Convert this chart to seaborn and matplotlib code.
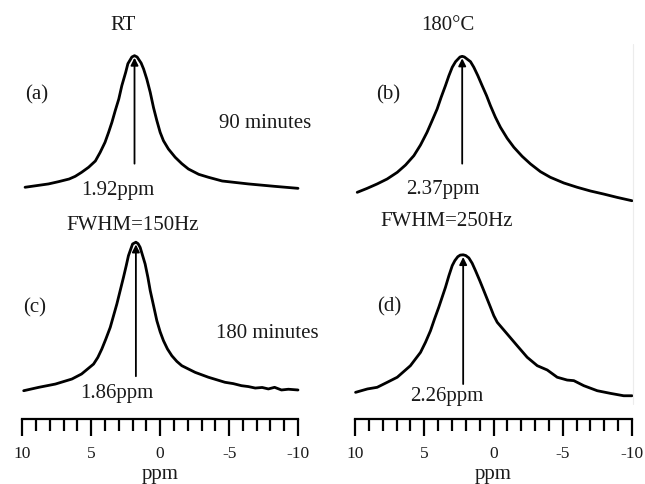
import numpy as np
import matplotlib
matplotlib.use("Agg")
import matplotlib.pyplot as plt
import seaborn as sns

# =========================
# Data (ppm, normalised intensity)
# =========================
ppm_a = [9.8, 8.1, 7.37, 6.6, 6.16, 5.7, 5.19, 4.7, 4.35, 4.0, 3.74, 3.5, 3.26, 3.0, 2.78,
         2.5, 2.34, 2.05, 1.86, 1.67, 1.38, 1.2, 0.97, 0.72, 0.48, 0.24, 0.0, -0.24, -0.6,
         -1.09, -1.57, -2.05, -2.8, -3.5, -4.5, -6.4, -8.3, -10.0]
int_a = [0.013, 0.038, 0.055, 0.075, 0.095, 0.125, 0.163, 0.21, 0.275, 0.35, 0.425, 0.50, 0.587, 0.675, 0.775,
         0.875, 0.94, 0.99, 1.0, 0.99, 0.945, 0.90, 0.825, 0.725, 0.61, 0.513, 0.425, 0.362, 0.30,
         0.238, 0.19, 0.15, 0.11, 0.088, 0.06, 0.038, 0.02, 0.005]

ppm_b = [9.84, 9.12, 8.4, 7.68, 6.95, 6.35, 5.75, 5.27, 4.8, 4.43, 4.07, 3.78, 3.47, 3.22, 2.98,
         2.74, 2.42, 2.26, 2.1, 1.66, 1.42, 1.13, 0.82, 0.5, 0.22, -0.14, -0.5, -0.99, -1.47,
         -2.07, -2.67, -3.39, -4.1, -5.08, -6.04, -7.0, -7.96, -8.93, -10.0]
int_b = [-0.025, 0.005, 0.038, 0.075, 0.125, 0.18, 0.25, 0.33, 0.425, 0.513, 0.60, 0.688, 0.775, 0.85, 0.913,
         0.955, 0.99, 0.995, 0.99, 0.955, 0.913, 0.85, 0.775, 0.70, 0.625, 0.538, 0.463, 0.38, 0.313,
         0.245, 0.188, 0.13, 0.088, 0.045, 0.013, -0.015, -0.038, -0.063, -0.088]

ppm_c = [9.9, 8.8, 7.6, 6.4, 5.7, 4.83, 4.52, 4.23, 3.94, 3.62, 3.38, 3.14, 2.9, 2.66, 2.46,
         2.3, 2.0, 1.76, 1.6, 1.45, 1.09, 0.89, 0.72, 0.48, 0.24, 0.0, -0.24, -0.53, -0.85,
         -1.21, -1.57, -2.54, -3.5, -4.7, -5.3, -5.9, -6.4, -6.9, -7.4, -7.85, -8.3, -8.8,
         -9.3, -10.0]
int_c = [0.002, 0.025, 0.047, 0.081, 0.115, 0.182, 0.227, 0.284, 0.351, 0.43, 0.509, 0.588, 0.678, 0.768, 0.847,
         0.914, 0.993, 1.005, 0.995, 0.97, 0.858, 0.768, 0.678, 0.577, 0.475, 0.40, 0.34, 0.284, 0.238,
         0.20, 0.171, 0.126, 0.093, 0.059, 0.05, 0.036, 0.03, 0.02, 0.024, 0.014, 0.025, 0.007,
         0.012, 0.007]

ppm_d = [9.96, 9.1, 8.4, 7.67, 6.95, 6.0, 5.27, 4.91, 4.55, 4.26, 3.95, 3.71, 3.47, 3.22, 2.98,
         2.79, 2.58, 2.4, 2.19, 2.0, 1.78, 1.54, 1.3, 0.99, 0.7, 0.46, 0.22, -0.02, -0.27,
         -0.99, -1.71, -2.43, -3.16, -3.88, -4.6, -5.32, -5.8, -6.52, -7.49, -8.45, -9.4, -10.0]
int_d = [-0.009, 0.014, 0.025, 0.059, 0.093, 0.171, 0.261, 0.329, 0.407, 0.486, 0.566, 0.633, 0.70, 0.779, 0.847,
         0.881, 0.907, 0.918, 0.92, 0.915, 0.899, 0.863, 0.813, 0.745, 0.678, 0.622, 0.566, 0.509, 0.464,
         0.385, 0.306, 0.228, 0.171, 0.142, 0.093, 0.074, 0.07, 0.036, 0.002, -0.016, -0.032, -0.032]

peak_labels = ["1.92ppm", "2.37ppm", "1.86ppm", "2.26ppm"]
panel_labels = ["(a)", "(b)", "(c)", "(d)"]
column_titles = ["RT", "180\u00b0C"]
fwhm_labels = ["FWHM=150Hz", "FWHM=250Hz"]
time_labels = ["90 minutes", "180 minutes"]
tick_values = [10, 5, 0, -5, -10]
tick_labels = ["10", "5", "0", "-5", "-10"]

# =========================
# Style
# =========================
sns.set_style("white")
plt.rcParams["font.family"] = ["Liberation Serif", "DejaVu Serif"]
plt.rcParams["axes.unicode_minus"] = False
TXT = "#1a1a1a"

W, H = 645, 485
fig = plt.figure(figsize=(W / 100, H / 100), dpi=100)


def fx(x):
    return x / W


def fy(y):
    return 1 - y / H


def make_ax(x0, x1, ytop, ybot):
    return fig.add_axes([fx(x0), fy(ybot), fx(x1) - fx(x0), (ybot - ytop) / H])


# column pixel extents (ppm 10 -> -10)
cols = [(22.3, 298.0), (355.0, 632.0)]

ax_a = make_ax(*cols[0], 40, 210)
ax_b = make_ax(*cols[1], 40, 210)
ax_c = make_ax(*cols[0], 225, 420)
ax_d = make_ax(*cols[1], 225, 420)
axes = [ax_a, ax_b, ax_c, ax_d]

series = [(ppm_a, int_a), (ppm_b, int_b), (ppm_c, int_c), (ppm_d, int_d)]
arrow_tail = [0.19, 0.19, 0.10, 0.047]

for i, (ax, (x, y)) in enumerate(zip(axes, series)):
    sns.lineplot(x=x, y=y, ax=ax, color="black", linewidth=2.0, estimator=None,
                 sort=False)
    for ln in ax.lines:
        ln.set_solid_joinstyle("round")
        ln.set_solid_capstyle("round")
        ln.set_clip_on(False)
    ax.set_xlim(10, -10)
    if i < 2:
        ax.set_ylim(-0.15, 1.125)
    else:
        ax.set_ylim(-0.189, 1.128)
    ax.set_xlabel("")
    ax.set_ylabel("")
    ax.set_yticks([])
    for s in ["top", "left", "right"]:
        ax.spines[s].set_visible(False)
    ax.patch.set_alpha(0)

    # arrow pointing at the peak
    k = int(np.argmax(y))
    ax.annotate("", xy=(x[k], y[k] - 0.015), xytext=(x[k], arrow_tail[i]),
                arrowprops=dict(arrowstyle="-|>", color="black", lw=1.3,
                                mutation_scale=11, shrinkA=0, shrinkB=0))

# top row: no axis line
for ax in [ax_a, ax_b]:
    ax.spines["bottom"].set_visible(False)
    ax.set_xticks([])

# bottom row: ppm scale
for ax in [ax_c, ax_d]:
    ax.spines["bottom"].set_linewidth(1.6)
    ax.spines["bottom"].set_color("black")
    ax.set_xticks(tick_values)
    ax.set_xticklabels(tick_labels, fontsize=12.5, color=TXT)
    ax.set_xticks(np.arange(-10, 11, 1), minor=True)
    ax.tick_params(axis="x", which="major", direction="out", length=12, width=1.6,
                   color="black", pad=7, bottom=True)
    ax.tick_params(axis="x", which="minor", direction="out", length=8.5, width=1.6,
                   color="black", bottom=True)

# faint frame edge on the right column
fig.add_artist(plt.Line2D([fx(633), fx(633)], [fy(45), fy(405)], color="#ececec", lw=0.8))

# =========================
# Texts
# =========================
fs = 15
fig.text(fx(123), fy(25), column_titles[0], ha="center", va="center", fontsize=fs, color=TXT)
fig.text(fx(448), fy(25), column_titles[1], ha="center", va="center", fontsize=fs, color=TXT)

for lab, (px, py) in zip(panel_labels, [(37, 95), (388, 95), (35, 308), (389, 307)]):
    fig.text(fx(px), fy(py), lab, ha="center", va="center", fontsize=fs, color=TXT)

for lab, (px, py) in zip(peak_labels, [(118, 191), (443, 190), (117, 394), (447, 397)]):
    fig.text(fx(px), fy(py), lab, ha="center", va="center", fontsize=fs, color=TXT)

fig.text(fx(265), fy(123), time_labels[0], ha="center", va="center", fontsize=fs, color=TXT)
fig.text(fx(267), fy(333), time_labels[1], ha="center", va="center", fontsize=fs, color=TXT)

fig.text(fx(133), fy(225), fwhm_labels[0], ha="center", va="center", fontsize=fs, color=TXT)
fig.text(fx(447), fy(222), fwhm_labels[1], ha="center", va="center", fontsize=fs, color=TXT)

fig.text(fx(160), fy(475), "ppm", ha="center", va="center", fontsize=fs, color=TXT)
fig.text(fx(493), fy(475), "ppm", ha="center", va="center", fontsize=fs, color=TXT)

fig.savefig("out.png", dpi=100)
